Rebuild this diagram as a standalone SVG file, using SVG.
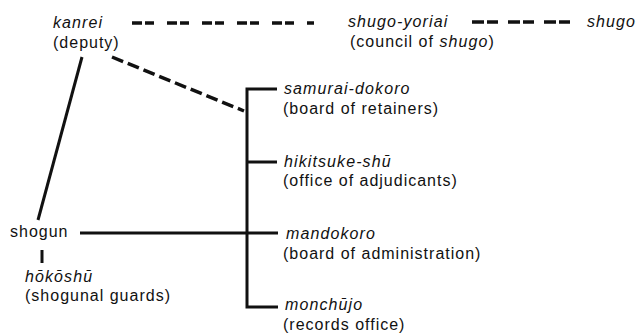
<svg xmlns="http://www.w3.org/2000/svg" width="640" height="334" viewBox="0 0 640 334">
<style>
text{font-family:"Liberation Sans",Arial,sans-serif;font-size:16px;fill:#111;letter-spacing:1px}
.i{font-style:italic;letter-spacing:1.1px}
.ln{stroke:#111;stroke-width:3;fill:none}
.d1{stroke:#111;stroke-width:3.5;fill:none;stroke-dasharray:10 3 9 13}
.d2{stroke:#111;stroke-width:3.5;fill:none;stroke-dasharray:12 3 11 10}
.d3{stroke:#111;stroke-width:3.5;fill:none;stroke-dasharray:12 5}
</style>
<rect width="640" height="334" fill="#fff"/>
<g id="connectors">
<line class="d1" x1="132" y1="23" x2="314" y2="23"/>
<line class="d2" x1="472" y1="22" x2="572" y2="22"/>
<line class="d3" x1="112" y1="57" x2="244" y2="111"/>
<line class="ln" x1="82" y1="57" x2="38" y2="220"/>
<line class="ln" x1="42" y1="250" x2="42" y2="263"/>
<line class="ln" x1="80" y1="233" x2="278" y2="233"/>
<polyline class="ln" points="277,89 247,89 247,307 278,307"/>
<line class="ln" x1="247" y1="162" x2="277" y2="162"/>
</g>
<g id="kanrei"><text class="i" x="53" y="28">kanrei</text><text x="53" y="48" letter-spacing="1.6">(deputy)</text></g>
<g id="shugo-yoriai"><text class="i" x="348" y="27" letter-spacing="0.8">shugo-yoriai</text><text x="350" y="47">(council of <tspan class="i">shugo</tspan>)</text></g>
<g id="shugo"><text class="i" x="587" y="27" letter-spacing="0.6">shugo</text></g>
<g id="samurai-dokoro"><text class="i" x="284" y="94" letter-spacing="1.4">samurai-dokoro</text><text x="283" y="114">(board of retainers)</text></g>
<g id="hikitsuke-shu"><text class="i" x="284" y="167">hikitsuke-shū</text><text x="283" y="186">(office of adjudicants)</text></g>
<g id="mandokoro"><text class="i" x="286" y="239">mandokoro</text><text x="283" y="259">(board of administration)</text></g>
<g id="monchujo"><text class="i" x="285" y="310">monchūjo</text><text x="283" y="330">(records office)</text></g>
<g id="shogun"><text x="10" y="237">shogun</text></g>
<g id="hokoshu"><text class="i" x="25" y="282">hōkōshū</text><text x="25" y="301">(shogunal guards)</text></g>
</svg>
